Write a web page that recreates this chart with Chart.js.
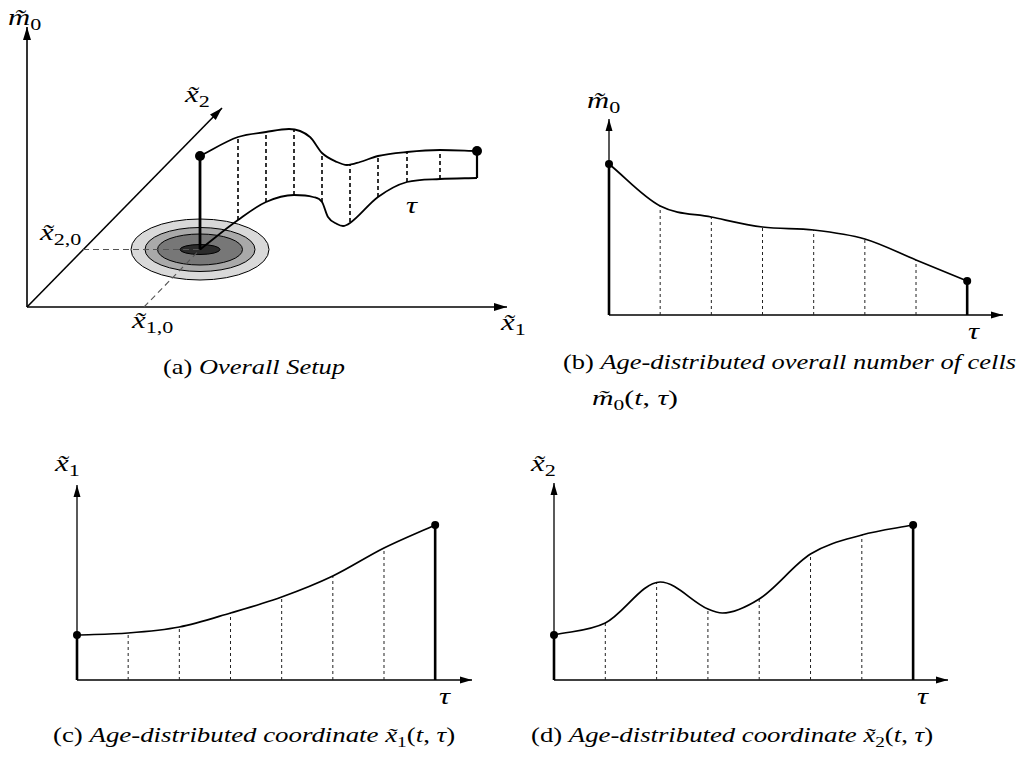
<!DOCTYPE html>
<html>
<head>
<meta charset="utf-8">
<title>Age-distributed cell population</title>
<script src="https://cdn.jsdelivr.net/npm/chart.js@4.4.1/dist/chart.umd.min.js"></script>
<style>
  html, body { margin: 0; padding: 0; background: #fff; }
  body { position: relative; width: 1019px; height: 757px; overflow: hidden;
         font-family: "Liberation Serif", "DejaVu Serif", serif; color: #000; }
  canvas { position: absolute; }
  .lbl { position: absolute; font-size: 24px; line-height: 24px; font-style: italic; white-space: nowrap;
         transform: scaleX(1.28); transform-origin: 0 0; }
  .cap { position: absolute; font-size: 21px; line-height: 21px; white-space: nowrap; transform-origin: 0 0; }
  .cap i { font-style: italic; }
  sub { font-style: normal; font-size: 72%; vertical-align: -0.3em; line-height: 0; }
</style>
</head>
<body>

<!-- axis labels -->
<div class="lbl" style="left:8px;top:5px">m&#x303;<sub>0</sub></div>
<div class="lbl" style="left:185px;top:82px">x&#x303;<sub>2</sub></div>
<div class="lbl" style="left:40px;top:220px">x&#x303;<sub>2,0</sub></div>
<div class="lbl" style="left:132px;top:308px">x&#x303;<sub>1,0</sub></div>
<div class="lbl" style="left:501px;top:310px">x&#x303;<sub>1</sub></div>
<div class="lbl" style="left:406px;top:193px">τ</div>

<div class="lbl" style="left:587px;top:88px">m&#x303;<sub>0</sub></div>
<div class="lbl" style="left:968px;top:319px">τ</div>

<div class="lbl" style="left:55px;top:451px">x&#x303;<sub>1</sub></div>
<div class="lbl" style="left:439px;top:684px">τ</div>

<div class="lbl" style="left:531px;top:451px">x&#x303;<sub>2</sub></div>
<div class="lbl" style="left:917px;top:684px">τ</div>

<!-- captions -->
<div class="cap" style="left:163px;top:357px" data-w="182">(a) <i>Overall Setup</i></div>
<div class="cap" style="left:563px;top:352px" data-w="453">(b) <i>Age-distributed overall number of cells</i></div>
<div class="cap" style="left:592px;top:388px" data-w="86"><i>m&#x303;</i><sub>0</sub>(<i>t</i>, <i>τ</i>)</div>
<div class="cap" style="left:53px;top:725px" data-w="402">(c) <i>Age-distributed coordinate x&#x303;</i><sub>1</sub>(<i>t</i>, <i>τ</i>)</div>
<div class="cap" style="left:531px;top:725px" data-w="402">(d) <i>Age-distributed coordinate x&#x303;</i><sub>2</sub>(<i>t</i>, <i>τ</i>)</div>

<script>
// ---------- (a) overall setup, sketch coordinates on the drawing plane ----------
const aAxisM0 = [[0, 0], [0, 28.0]];
const aAxisX1 = [[0, 0], [48.0, 0]];
const aAxisX2 = [[0, 0], [19.5, 19.9]];
const aStart = [17.3, 5.75];                 // initial position (x1,0 ; x2,0)
const aStartM0 = 15.1;                       // top of the initial stem
const aGuideX2 = [[5.6, 5.75], [17.3, 5.75]];
const aGuideX1 = [[11.7, 0], [17.3, 5.75]];
const aTopX = [17.3, 21.1, 23.9, 26.2, 28.3, 29.5, 31.0, 32.0, 33.3, 35.1, 38.0, 41.3, 45.0];
const aTopY = [15.1, 17.0, 17.5, 17.8, 17.0, 15.4, 14.5, 14.2, 14.5, 15.1, 15.5, 15.7, 15.6];
const aBotX = [17.3, 21.1, 23.9, 26.7, 28.6, 29.5, 30.1, 31.0, 31.6, 32.3, 35.1, 38.0, 41.3, 45.0];
const aBotY = [5.75, 8.7, 10.5, 11.2, 11.0, 10.5, 9.0, 8.3, 8.1, 8.4, 11.0, 12.5, 12.8, 12.9];
const aSliceX = [21.1, 23.9, 26.7, 29.5, 32.3, 35.1, 38.0, 41.3];
const aSliceLo = [8.7, 10.5, 11.2, 10.5, 8.5, 11.0, 12.5, 12.8];
const aSliceHi = [17.0, 17.5, 17.7, 15.4, 14.3, 15.1, 15.5, 15.7];
const aEnd = [45.0, 12.9, 15.6];             // x, bottom, top of the last stem
const aRings = [[6.9, 3.05], [5.5, 2.2], [4.25, 1.55], [2.0, 0.5]];   // density contours (semi-axes)
const aRingFill = ['#d9d9d9', '#a9a9a9', '#777777', '#2b2b2b'];

// ---------- (b) m0(t, tau), (c) x1(t, tau), (d) x2(t, tau) ----------
const tau = [0, 1, 2, 3, 4, 5, 6, 7];
const bM0 = [3.02, 2.18, 1.96, 1.76, 1.70, 1.52, 1.10, 0.68];
const cX1 = [0.90, 0.94, 1.06, 1.34, 1.66, 2.08, 2.64, 3.10];
const dX2 = [0.90, 1.14, 1.94, 1.42, 1.62, 2.52, 2.90, 3.10];
const dCurveTau = [0, 1, 2.07, 3, 3.28, 4, 5, 6, 7];
const dCurveX2 = [0.90, 1.14, 1.96, 1.42, 1.34, 1.62, 2.52, 2.90, 3.10];

const PAD = 14;

function mount(box) {
  // box = plot area [left, top, right, bottom] on the page
  const c = document.createElement('canvas');
  c.width = box[2] - box[0] + 2 * PAD;
  c.height = box[3] - box[1] + 2 * PAD;
  c.style.left = (box[0] - PAD) + 'px';
  c.style.top = (box[1] - PAD) + 'px';
  document.body.appendChild(c);
  return c;
}

const pts = (xs, ys) => xs.map((x, i) => ({ x: x, y: ys[i] }));
const line = (data, extra) => Object.assign({
  data: data, showLine: true, pointRadius: 0, borderColor: '#000',
  borderWidth: 1.3, fill: false, clip: false, tension: 0
}, extra || {});
const pair = p => p.map(q => ({ x: q[0], y: q[1] }));

function arrows(list, len, half) {
  return {
    id: 'arrows',
    afterDatasetsDraw(chart) {
      const { ctx, scales: { x, y } } = chart;
      list.forEach(a => {
        const x0 = x.getPixelForValue(a[0][0]), y0 = y.getPixelForValue(a[0][1]);
        const x1 = x.getPixelForValue(a[1][0]), y1 = y.getPixelForValue(a[1][1]);
        ctx.save();
        ctx.translate(x1, y1);
        ctx.rotate(Math.atan2(y1 - y0, x1 - x0));
        ctx.beginPath();
        ctx.moveTo(0, 0);
        ctx.lineTo(-len, -half);
        ctx.lineTo(-len, half);
        ctx.closePath();
        ctx.fillStyle = '#000';
        ctx.fill();
        ctx.restore();
      });
    }
  };
}

function baseOptions(xmin, xmax, ymin, ymax) {
  return {
    responsive: false, animation: false, events: [],
    layout: { padding: PAD },
    plugins: { legend: { display: false }, tooltip: { enabled: false } },
    scales: {
      x: { type: 'linear', min: xmin, max: xmax, display: false },
      y: { type: 'linear', min: ymin, max: ymax, display: false }
    }
  };
}

// ---------- panel (a) ----------
(function () {
  const rings = {
    id: 'rings',
    beforeDatasetsDraw(chart) {
      const { ctx, scales: { x, y } } = chart;
      const cx = x.getPixelForValue(aStart[0]), cy = y.getPixelForValue(aStart[1]);
      aRings.forEach((r, i) => {
        const rx = Math.abs(x.getPixelForValue(aStart[0] + r[0]) - cx);
        const ry = Math.abs(y.getPixelForValue(aStart[1] + r[1]) - cy);
        ctx.beginPath();
        ctx.ellipse(cx, cy, rx, ry, 0, 0, Math.PI * 2);
        ctx.fillStyle = aRingFill[i];
        ctx.fill();
        ctx.lineWidth = 1;
        ctx.strokeStyle = '#000';
        ctx.stroke();
      });
    }
  };

  const datasets = [
    { data: [{ x: aStart[0], y: aStartM0 }, { x: aEnd[0], y: aEnd[2] }], pointRadius: 5,
      backgroundColor: '#000', borderWidth: 0, clip: false },
    line(pair([aStart, [aStart[0], aStartM0]]), { borderWidth: 2.8 }),
    line(pair([[aEnd[0], aEnd[1]], [aEnd[0], aEnd[2]]]), { borderWidth: 2.2 }),
    line(pts(aTopX, aTopY), { borderWidth: 1.8, cubicInterpolationMode: 'monotone' }),
    line(pts(aBotX, aBotY), { borderWidth: 1.8, cubicInterpolationMode: 'monotone' })
  ];
  aSliceX.forEach((s, i) => datasets.push(line(pair([[s, aSliceLo[i]], [s, aSliceHi[i]]]),
    { borderWidth: 1.6, borderDash: [4, 3] })));
  datasets.push(line(pair(aGuideX2), { borderColor: '#555', borderWidth: 1.1, borderDash: [6, 4] }));
  datasets.push(line(pair(aGuideX1), { borderColor: '#555', borderWidth: 1.1, borderDash: [6, 4] }));
  datasets.push(line(pair(aAxisM0), { borderWidth: 1.6 }));
  datasets.push(line(pair(aAxisX1), { borderWidth: 1.6 }));
  datasets.push(line(pair(aAxisX2), { borderWidth: 1.6 }));

  new Chart(mount([0, 0, 530, 345]), {
    type: 'scatter',
    data: { datasets: datasets },
    options: baseOptions(-2.7, 50.3, -3.8, 30.7),
    plugins: [rings, arrows([aAxisM0, aAxisX1, aAxisX2], 13, 4)]
  });
})();

// ---------- panels (b), (c), (d) ----------
function agePanel(box, tauMax, valMax, samples, curveTau, curveVal) {
  const last = tau.length - 1;
  const datasets = [
    { data: [{ x: tau[0], y: samples[0] }, { x: tau[last], y: samples[last] }], pointRadius: 4,
      backgroundColor: '#000', borderWidth: 0, clip: false },
    line(pair([[tau[0], 0], [tau[0], samples[0]]]), { borderWidth: 2.6 }),
    line(pair([[tau[last], 0], [tau[last], samples[last]]]), { borderWidth: 2.6 }),
    line(pts(curveTau, curveVal), { borderWidth: 1.7, cubicInterpolationMode: 'monotone' })
  ];
  for (let i = 1; i < last; i++) {
    datasets.push(line(pair([[tau[i], 0], [tau[i], samples[i]]]),
      { borderColor: '#222', borderWidth: 1, borderDash: [3, 3] }));
  }
  const axY = [[0, 0], [0, valMax]], axX = [[0, 0], [tauMax, 0]];
  datasets.push(line(pair(axY), { borderWidth: 1.3 }));
  datasets.push(line(pair(axX), { borderWidth: 1.3 }));

  new Chart(mount(box), {
    type: 'scatter',
    data: { datasets: datasets },
    options: baseOptions(0, tauMax, 0, valMax),
    plugins: [arrows([axY, axX], 12, 3.5)]
  });
}

agePanel([609, 119, 1003, 315], 7.70, 3.92, bM0, tau, bM0);
agePanel([77, 485, 472, 680], 7.72, 3.90, cX1, tau, cX1);
agePanel([554, 483, 948, 680], 7.68, 3.94, dX2, dCurveTau, dCurveX2);

// stretch captions horizontally to the reference line widths
document.querySelectorAll('.cap[data-w]').forEach(el => {
  const w = el.getBoundingClientRect().width;
  el.style.transform = 'scaleX(' + (+el.dataset.w / w).toFixed(3) + ')';
});
</script>
</body>
</html>
